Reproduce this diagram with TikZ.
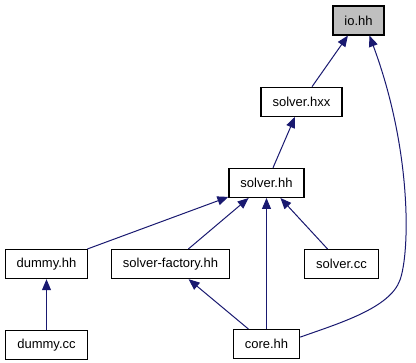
\documentclass[tikz,border=0pt]{standalone}
\usepackage{fontspec}
\setmainfont{Liberation Sans}
\usetikzlibrary{arrows.meta,positioning}
\definecolor{edgeblue}{RGB}{25,25,112}
\definecolor{curfile}{RGB}{191,191,191}

\begin{document}
\begin{tikzpicture}[
  x=1pt, y=-1pt,
  node distance=51pt,
  file/.style={draw=black, line width=1.2pt, fill=white, font=\fontsize{13}{15}\selectfont, inner xsep=11.5pt, inner ysep=0pt, minimum height=29pt},
  current/.style={file, fill=curfile},
  inc/.style={-{Triangle[length=11pt,width=9pt]}, draw=edgeblue, line width=1pt},
]
\useasboundingbox (0,0) rectangle (416,363);
% files, one row per include level
\node[current] (io) at (358.5,20.5) {io.hh};
\node[file, below=of io, xshift=-57pt] (hxx) {solver.hxx};
\node[file, below=of hxx, xshift=-35pt] (shh) {solver.hh};
\node[file, below=of shh, xshift=-220pt] (dhh) {dummy.hh};
\node[file, below=of shh, xshift=-96pt] (factory) {solver-factory.hh};
\node[file, below=of shh, xshift=75pt] (scc) {solver.cc};
\node[file, below=of dhh] (dcc) {dummy.cc};
\node[file, below=131pt of shh] (core) {core.hh};
% include edges
\draw[inc] (hxx) -- (io);
\draw[inc] (shh) -- (hxx);
\draw[inc] (dhh) -- (shh);
\draw[inc] (factory) -- (shh);
\draw[inc] (core) -- (shh);
\draw[inc] (scc) -- (shh);
\draw[inc] (dcc) -- (dhh);
\draw[inc] (core) -- (factory);
\draw[inc] ([yshift=7pt]core.east) .. controls (340,323) and (390,308) .. (400,280)
  .. controls (410,252) and (412,150) .. ([xshift=11pt]io.south);
\end{tikzpicture}
\end{document}
